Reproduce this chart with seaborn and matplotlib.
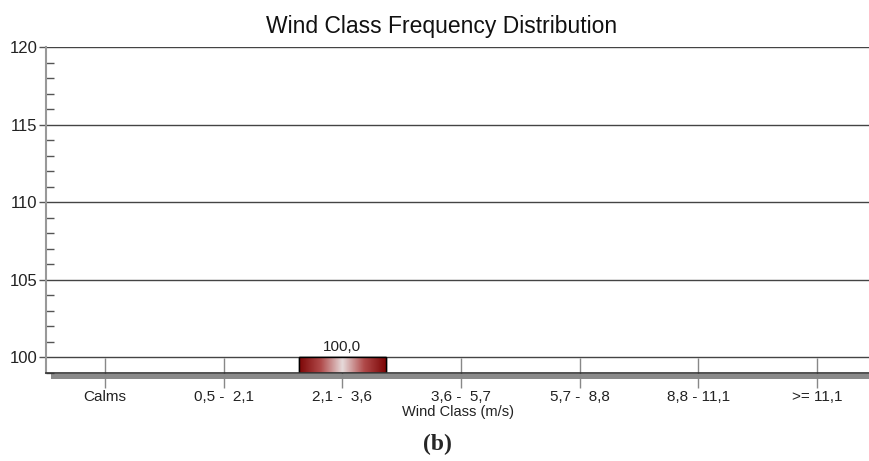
import numpy as np
import pandas as pd
import matplotlib
matplotlib.use("Agg")
import matplotlib.pyplot as plt
import seaborn as sns
from matplotlib.patches import Rectangle
from matplotlib.colors import LinearSegmentedColormap
from matplotlib.ticker import MultipleLocator

categories = ["Calms", "0,5 -  2,1", "2,1 -  3,6", "3,6 -  5,7", "5,7 -  8,8", "8,8 - 11,1", ">= 11,1"]
frequency = [0.0, 0.0, 100.0, 0.0, 0.0, 0.0, 0.0]
y_ticks = [100, 105, 110, 115, 120]

sns.set_theme(style="white")
plt.rcParams['font.family'] = ['Liberation Sans', 'DejaVu Sans']

df = pd.DataFrame({"cls": categories, "freq": frequency})

fig = plt.figure(figsize=(8.7, 4.61), dpi=100)
ax = fig.add_axes([0.0529, 0.191, 0.9471, 0.707])

sns.barplot(data=df, x="cls", y="freq", order=categories, ax=ax,
            width=0.73, color="#8b0a0a", edgecolor="black", linewidth=1.0,
            saturation=1)

ax.set_ylim(99, 120)
ax.set_xlim(-0.497, 6.447)

# gradient fill for bars
cmap = LinearSegmentedColormap.from_list("g", ["#7d0606", "#b04a4a", "#e6dada", "#b04a4a", "#7d0606"])
grad = np.linspace(0, 1, 256).reshape(1, -1)
for p, v in zip(ax.patches, frequency):
    if v <= 0:
        continue
    x0 = p.get_x(); w = p.get_width()
    im = ax.imshow(grad, extent=[x0, x0 + w, 99, v], aspect="auto", cmap=cmap,
                   zorder=p.get_zorder() + 0.1)
    im.set_clip_path(p)
    ax.text(x0 + w / 2, v + 0.2, f"{v:.1f}".replace(".", ","), ha="center", va="bottom",
            fontsize=11, color="#222222")
    ax.add_patch(Rectangle((x0, 99), w, v - 99, fill=False, edgecolor="black", lw=1.0,
                           zorder=p.get_zorder() + 0.2))

ax.set_yticks(y_ticks)
ax.yaxis.set_minor_locator(MultipleLocator(1))
ax.tick_params(axis="y", which="major", direction="out", length=5, width=1, color="#555555",
               labelsize=12, labelcolor="#222222", pad=1, left=True)
ax.tick_params(axis="y", which="minor", direction="in", length=6, width=1, color="#555555", left=True)
ax.tick_params(axis="x", which="major", direction="inout", length=22, width=1, color="#888888",
               labelsize=11, labelcolor="#222222", pad=1, bottom=True)

ax.grid(axis="y", which="major", color="#444444", linewidth=1.0)
ax.set_axisbelow(True)

for s in ["top", "right"]:
    ax.spines[s].set_visible(False)
ax.spines["left"].set_color("#999999")
ax.spines["left"].set_linewidth(1.5)
ax.spines["bottom"].set_color("#333333")
ax.spines["bottom"].set_linewidth(1.2)

# 3D shadow under axis
ax.add_patch(Rectangle((0.006, -0.02), 1.0, 0.018, transform=ax.transAxes,
                       facecolor="#8a8a8a", edgecolor="none", clip_on=False, zorder=0.5))

ax.set_xlabel("Wind Class (m/s)", fontsize=10.5, color="#222222", labelpad=1)
ax.set_ylabel("")
fig.text(0.507, 0.942, "Wind Class Frequency Distribution", ha="center", va="center",
         fontsize=16.5, color="#111111")
fig.text(0.503, 0.035, "(b)", ha="center", va="center", fontsize=17, fontweight="bold",
         family=["Liberation Serif", "DejaVu Serif"])

fig.savefig("out.png", dpi=100)
